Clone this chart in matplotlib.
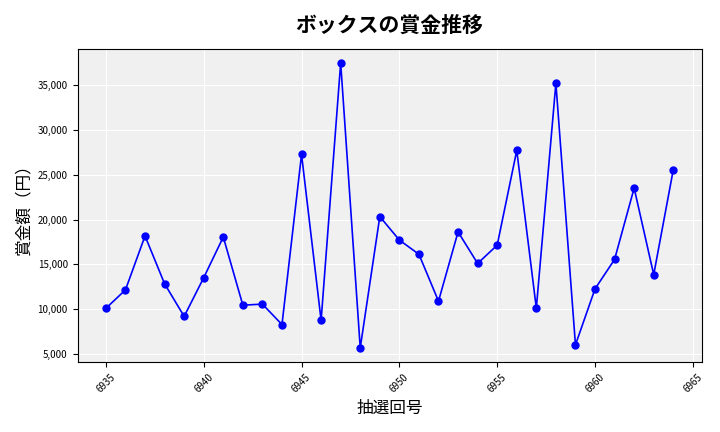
import matplotlib
matplotlib.use('Agg')
import matplotlib.pyplot as plt
from matplotlib.ticker import FuncFormatter

plt.rcParams['font.family'] = ['Noto Sans CJK JP', 'DejaVu Sans']

draws = list(range(6935, 6965))
prizes = [10100, 12160, 18180, 12840, 9200, 13520, 18060, 10450, 10570, 8290,
          27270, 8750, 37490, 5680, 20340, 17720, 16130, 10900, 18630, 15110,
          17150, 27720, 10110, 35220, 6020, 12270, 15560, 23520, 13860, 25560]

fig, ax = plt.subplots(figsize=(7.2, 4.32), dpi=100)
ax.set_facecolor('#f0f0f0')
ax.grid(True, color='white', linewidth=0.8)
ax.set_axisbelow(True)
ax.plot(draws, prizes, color='blue', marker='o', markersize=5, linewidth=1.2)

ax.set_title('ボックスの賞金推移', fontsize=15, fontweight='bold', pad=12)
ax.set_xlabel('抽選回号', fontsize=12)
ax.set_ylabel('賞金額（円）', fontsize=12)
ax.yaxis.set_major_formatter(FuncFormatter(lambda v, p: f'{int(v):,}'))
ax.tick_params(axis='x', labelrotation=45, labelsize=7)
ax.tick_params(axis='y', labelsize=7)
ax.set_xticks(range(6935, 6966, 5))

fig.tight_layout()
fig.savefig('out.png')
